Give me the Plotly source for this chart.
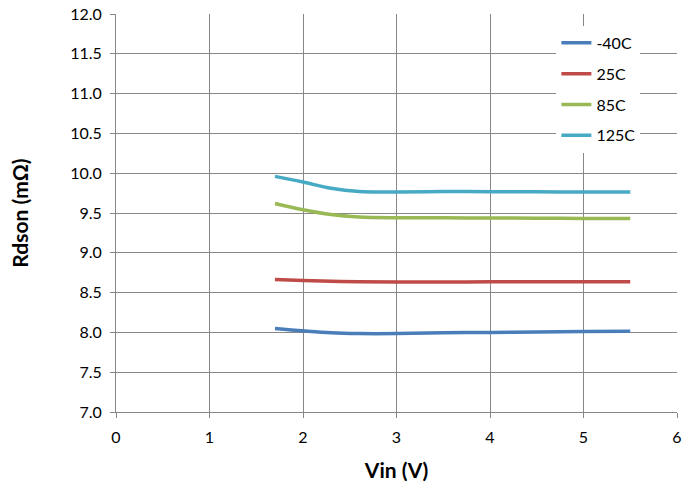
import plotly.graph_objects as go

vin = [1.7, 2.0, 2.3, 2.6, 3.0, 3.5, 4.0, 4.5, 5.0, 5.5]
r_m40 = [8.05, 8.02, 7.995, 7.985, 7.985, 7.995, 8.0, 8.005, 8.01, 8.014]
r_25 = [8.665, 8.652, 8.643, 8.636, 8.633, 8.634, 8.635, 8.636, 8.636, 8.637]
r_85 = [9.62, 9.54, 9.48, 9.45, 9.44, 9.44, 9.437, 9.435, 9.432, 9.43]
r_125 = [9.96, 9.89, 9.81, 9.77, 9.765, 9.77, 9.768, 9.766, 9.764, 9.763]

series = [("-40C", r_m40, "#4a7ebb"), ("25C", r_25, "#be4b48"),
          ("85C", r_85, "#98b954"), ("125C", r_125, "#46aac5")]

fig = go.Figure()
for i, (name, vals, color) in enumerate(series):
    fig.add_trace(go.Scatter(x=vin, y=vals, name=name, mode="lines",
                             line=dict(color=color, width=3.5, shape="spline", smoothing=1.0),
                             legendgroup=name))

font = "Lato, 'Liberation Sans', sans-serif"
fig.update_layout(
    width=682, height=489,
    margin=dict(l=116, r=5, t=14, b=77),
    paper_bgcolor="white", plot_bgcolor="white",
    font=dict(family=font, size=16, color="black"),
    showlegend=True,
    legend=dict(x=0.785, y=0.97, xanchor="left", yanchor="top",
                bgcolor="white", borderwidth=0, font=dict(size=16),
                traceorder="grouped", tracegroupgap=7, itemwidth=30),
    xaxis=dict(range=[0, 6], dtick=1, tick0=0, showgrid=True, gridcolor="#878787", gridwidth=1,
               showline=True, linecolor="#878787", linewidth=1, ticks="outside", ticklen=5,
               tickcolor="#878787", zeroline=False, mirror=False, automargin=False,
               ticklabelstandoff=6,
               title=dict(text="<b>Vin (V)</b>", font=dict(size=21), standoff=18)),
    yaxis=dict(range=[7, 12], dtick=0.5, tick0=7, tickformat=".1f", showgrid=True,
               gridcolor="#878787", gridwidth=1, showline=True, linecolor="#878787", linewidth=1,
               ticks="outside", ticklen=5, tickcolor="#878787", zeroline=False, automargin=False,
               ticklabelstandoff=5,
               title=dict(text="<b>Rdson (mΩ)</b>", font=dict(size=21), standoff=35)),
)
fig.write_html("out.html", config={"displayModeBar": False},
               post_script="document.body.style.margin='0px';document.body.style.overflow='hidden';")
